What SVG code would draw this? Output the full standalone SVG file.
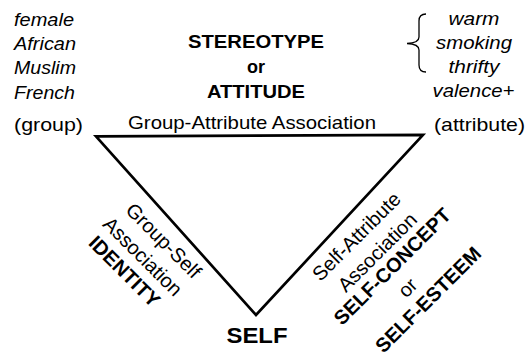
<svg xmlns="http://www.w3.org/2000/svg" width="532" height="357" viewBox="0 0 532 357">
<style>
text{font-family:"Liberation Sans",Arial,Helvetica,sans-serif;fill:#000}
.it{font-style:italic;font-size:19px}
.rg{font-size:19px}
.bd{font-weight:bold;font-size:18px}
.rr{font-size:20px}
.rb{font-size:20px;font-weight:bold}
.mid{text-anchor:middle}
.edge{fill:none;stroke:#000;stroke-width:2.7;stroke-linejoin:miter}
.brace{fill:none;stroke:#000;stroke-width:1.3}
</style>
<rect width="532" height="357" fill="#fff"/>
<g id="group-node">
<text class="it" x="14" y="26" textLength="60" lengthAdjust="spacingAndGlyphs">female</text>
<text class="it" x="14" y="50" textLength="62" lengthAdjust="spacingAndGlyphs">African</text>
<text class="it" x="14" y="74" textLength="62" lengthAdjust="spacingAndGlyphs">Muslim</text>
<text class="it" x="14" y="99" textLength="61" lengthAdjust="spacingAndGlyphs">French</text>
<text class="rg" x="14" y="131" textLength="69" lengthAdjust="spacingAndGlyphs">(group)</text>
</g>
<g id="stereotype-node">
<text class="bd mid" x="256" y="48" textLength="136" lengthAdjust="spacingAndGlyphs">STEREOTYPE</text>
<text class="bd mid" x="256" y="73" textLength="18" lengthAdjust="spacingAndGlyphs">or</text>
<text class="bd mid" x="256" y="98" textLength="98" lengthAdjust="spacingAndGlyphs">ATTITUDE</text>
</g>
<g id="attribute-node">
<path class="brace" d="M426,14 Q419,14 419,21 L419,37 Q419,43 407,43.5 Q419,44 419,50 L419,65 Q419,72 426,72"/>
<text class="it mid" x="474" y="25" textLength="51" lengthAdjust="spacingAndGlyphs">warm</text>
<text class="it mid" x="474" y="49" textLength="76" lengthAdjust="spacingAndGlyphs">smoking</text>
<text class="it mid" x="474" y="73" textLength="51" lengthAdjust="spacingAndGlyphs">thrifty</text>
<text class="it mid" x="473.5" y="97" textLength="82" lengthAdjust="spacingAndGlyphs">valence+</text>
<text class="rg" x="434" y="131" textLength="91" lengthAdjust="spacingAndGlyphs">(attribute)</text>
</g>
<g id="self-node">
<text class="mid" x="257" y="343" style="font-weight:bold;font-size:22px" textLength="61" lengthAdjust="spacingAndGlyphs">SELF</text>
</g>
<g id="connectors">
<path class="edge" d="M96,136.3 L423,134.8 L256,315 Z"/>
<text class="rg mid" x="252" y="129" textLength="248" lengthAdjust="spacingAndGlyphs">Group-Attribute Association</text>
<text class="rr mid" transform="translate(158.7,245.4) rotate(45)">Group-Self</text>
<text class="rr mid" transform="translate(137.9,261.3) rotate(45)">Association</text>
<text class="rb mid" transform="translate(119.6,276.3) rotate(45)">IDENTITY</text>
<text class="rr mid" transform="translate(361.3,241.3) rotate(-45)">Self-Attribute</text>
<text class="rr mid" transform="translate(382.1,257.1) rotate(-45)">Association</text>
<text class="rb mid" transform="translate(397.1,271.3) rotate(-45)">SELF-CONCEPT</text>
<text class="rr mid" transform="translate(412.5,292.5) rotate(-45)">or</text>
<text class="rb mid" transform="translate(433,304.5) rotate(-45)">SELF-ESTEEM</text>
</g>
</svg>
